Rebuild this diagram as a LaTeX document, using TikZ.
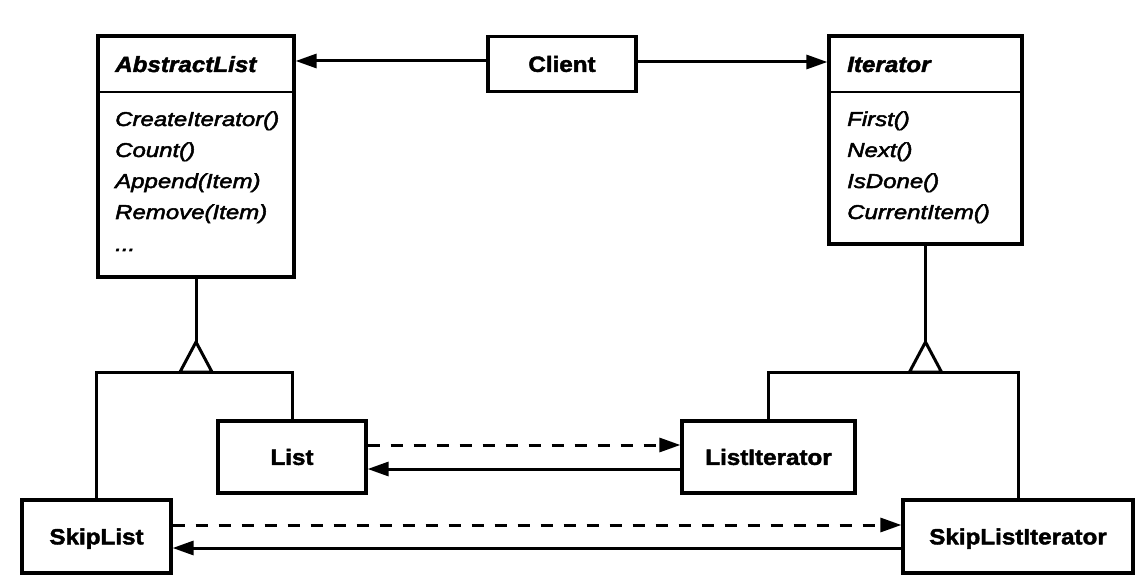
\documentclass[tikz,border=0pt]{standalone}
\usepackage{fontspec}
\usetikzlibrary{arrows.meta}
\newfontfamily\hdfont[FakeStretch=1.1,FakeBold=2]{Liberation Sans}
\newfontfamily\opfont[FakeStretch=1.2,FakeBold=2.5]{Liberation Sans}

\begin{document}
\begin{tikzpicture}[x=1pt,y=-1pt,
  box/.style={draw, line width=3.2pt, inner sep=0pt,
    font=\hdfont\bfseries\fontsize{22}{24}\selectfont,
    text height=15.7pt, text depth=0pt},
  hdtext/.style={inner sep=0pt, anchor=base west,
    font=\hdfont\bfseries\itshape\fontsize{22}{24}\selectfont},
  optext/.style={inner sep=0pt, anchor=base west,
    font=\opfont\itshape\fontsize{20}{24}\selectfont},
  conn/.style={line width=3pt},
  assoc/.style={conn, -{Triangle[length=21pt,width=14pt]}},
  dep/.style={assoc, dash pattern=on 12pt off 11pt},
  divider/.style={line width=2.8pt}]

\useasboundingbox (0,0) rectangle (1146,588);

% abstract classes
\node[box, minimum width=196pt, minimum height=241pt] (al) at (196,156.5) {};
\draw[divider] (al.west |- 0,92) -- (al.east |- 0,92);
\node[hdtext] (alname) at (115,72) {AbstractList};
\node[optext] (alop1) at (115,126) {CreateIterator()};
\node[optext] (alop2) at (115,157) {Count()};
\node[optext] (alop3) at (115,188) {Append(Item)};
\node[optext] (alop4) at (115,219) {Remove(Item)};
\node[optext] (alop5) at (115,251) {...};

\node[box, minimum width=193pt, minimum height=208pt] (it) at (925.5,140) {};
\draw[divider] (it.west |- 0,92) -- (it.east |- 0,92);
\node[hdtext] (itname) at (847,72) {Iterator};
\node[optext] (itop1) at (847,126) {First()};
\node[optext] (itop2) at (847,157) {Next()};
\node[optext] (itop3) at (847,188) {IsDone()};
\node[optext] (itop4) at (847,219) {CurrentItem()};

% concrete classes
\node[box, minimum width=148pt, minimum height=55pt] (client) at (562,64) {Client};
\node[box, minimum width=148pt, minimum height=72pt] (list) at (292,457) {List};
\node[box, minimum width=173pt, minimum height=72pt] (listit) at (768.5,457) {ListIterator};
\node[box, minimum width=149pt, minimum height=73pt] (skiplist) at (96.5,536.5) {SkipList};
\node[box, minimum width=230pt, minimum height=73pt] (skipit) at (1018,536.5) {SkipListIterator};

% client associations
\draw[assoc] ([yshift=3pt]client.west) -- ([yshift=3pt]client.west -| al.east);
\draw[assoc] ([yshift=2pt]client.east) -- ([yshift=2pt]client.east -| it.west);

% inheritance: AbstractList
\coordinate (alapex) at (al.south |- 0,342);
\coordinate (aljoin) at (al.south |- 0,372);
\draw[conn] (al.south) -- (alapex);
\draw[conn, fill=white] (alapex) -- ++(-16,30) -- ++(32,0) -- cycle;
\draw[conn] (skiplist.north) |- (aljoin) -| (list.north);

% inheritance: Iterator
\coordinate (itapex) at (it.south |- 0,342);
\coordinate (itjoin) at (it.south |- 0,372);
\draw[conn] (it.south) -- (itapex);
\draw[conn, fill=white] (itapex) -- ++(-16,30) -- ++(32,0) -- cycle;
\draw[conn] (listit.north) |- (itjoin) -| (skipit.north);

% list / iterator pairs
\draw[dep] ([yshift=12pt]list.east) -- ([yshift=12pt]listit.west);
\draw[assoc] ([yshift=-12pt]listit.west) -- ([yshift=-12pt]list.east);
\draw[dep] ([yshift=11.5pt]skiplist.east) -- ([yshift=11.5pt]skipit.west);
\draw[assoc] ([yshift=-11.5pt]skipit.west) -- ([yshift=-11.5pt]skiplist.east);

\end{tikzpicture}
\end{document}
